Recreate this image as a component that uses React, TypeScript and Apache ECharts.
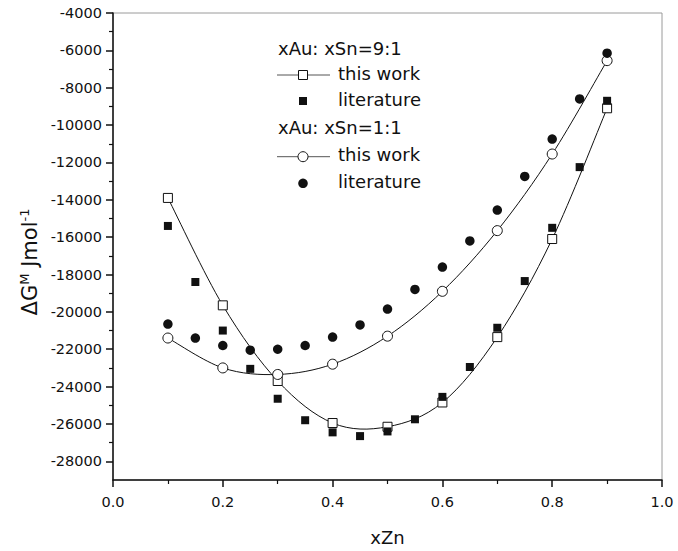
import React, { useEffect, useRef } from "react";
import * as echarts from "echarts";

// ---- data ----
const xThisWork = [0.1, 0.2, 0.3, 0.4, 0.5, 0.6, 0.7, 0.8, 0.9];
const xLiterature = [0.1, 0.15, 0.2, 0.25, 0.3, 0.35, 0.4, 0.45, 0.5, 0.55, 0.6, 0.65, 0.7, 0.75, 0.8, 0.85, 0.9];

const thisWork91 = [-13900, -19650, -23700, -25950, -26150, -24850, -21350, -16100, -9100];
const literature91 = [-15400, -18400, -21000, -23050, -24650, -25800, -26450, -26650, -26400, -25750, -24550, -22950, -20850, -18350, -15500, -12250, -8700];
const thisWork11 = [-21400, -23000, -23350, -22800, -21300, -18900, -15650, -11550, -6550];
const literature11 = [-20650, -21400, -21800, -22050, -22000, -21800, -21350, -20700, -19850, -18800, -17600, -16200, -14550, -12750, -10750, -8600, -6150];

const yMajorTicks = [-28000, -26000, -24000, -22000, -20000, -18000, -16000, -14000, -12000, -10000, -8000, -6000, -4000];
const yMinorTicks = [-27000, -25000, -23000, -21000, -19000, -17000, -15000, -13000, -11000, -9000, -7000, -5000];

const legendHeader1 = "xAu: xSn=9:1";
const legendHeader2 = "xAu: xSn=1:1";
const legendThis = "this work";
const legendLit = "literature";
const yTitle = "{t|ΔG}{s|M}{t| Jmol}{s|-1}";
const xTitle = "xZn";

const FONT = "DejaVu Sans";
const INK = "#111";

const pair = (xs: number[], ys: number[]) => xs.map((x, i) => [x, ys[i]]);

// smooth curve (Catmull-Rom) through the data, positioned by the chart's own scales
const curveSeries = (xs: number[], ys: number[], name: string) => ({
  type: "custom",
  name,
  data: pair(xs, ys),
  z: 1,
  silent: true,
  renderItem: (params: any, api: any) => {
    if (params.dataIndex !== 0) return null;
    const p = xs.map((x, i) => api.coord([x, ys[i]]));
    const n = p.length;
    let d = `M${p[0][0]},${p[0][1]}`;
    for (let i = 0; i < n - 1; i++) {
      const p0 = p[Math.max(i - 1, 0)];
      const p1 = p[i];
      const p2 = p[i + 1];
      const p3 = p[Math.min(i + 2, n - 1)];
      const c1x = p1[0] + (p2[0] - p0[0]) / 6;
      const c1y = p1[1] + (p2[1] - p0[1]) / 6;
      const c2x = p2[0] - (p3[0] - p1[0]) / 6;
      const c2y = p2[1] - (p3[1] - p1[1]) / 6;
      d += ` C${c1x},${c1y} ${c2x},${c2y} ${p2[0]},${p2[1]}`;
    }
    return {
      type: "path",
      shape: { pathData: d },
      style: { fill: "none", stroke: INK, lineWidth: 1 },
    };
  },
});

export default function App() {
  const ref = useRef<HTMLDivElement>(null);
  useEffect(() => {
    if (!ref.current) return;
    const chart = echarts.init(ref.current, undefined, { renderer: "svg" });
    const lx = 303;
    const textX = 338;
    const rows = [50.7, 75, 101, 129.3, 156.7, 183.3];
    const txt = (t: string, y: number, x: number) => ({
      type: "text",
      left: x,
      top: y - 11,
      style: { text: t, fontFamily: FONT, fontSize: 18, fill: INK, textVerticalAlign: "top" },
      z: 100,
    });
    const option: any = {
      animation: false,
      backgroundColor: "#fff",
      grid: { left: 113, right: 16, top: 13, bottom: 70, show: true, borderColor: "#9a9a9a", borderWidth: 1 },
      xAxis: {
        type: "value",
        min: 0,
        max: 1,
        interval: 0.2,
        name: xTitle,
        nameLocation: "middle",
        nameGap: 48,
        nameTextStyle: { fontFamily: FONT, fontSize: 18, color: INK },
        axisLine: { onZero: false, lineStyle: { color: INK, width: 1.5 } },
        axisTick: { length: 7, lineStyle: { color: INK, width: 1.5 } },
        minorTick: { show: true, splitNumber: 2, length: 4, lineStyle: { color: INK, width: 1.2 } },
        axisLabel: { formatter: (v: number) => v.toFixed(1), margin: 14, fontSize: 14.5, color: INK, fontFamily: FONT },
        splitLine: { show: false },
      },
      yAxis: [
        {
          type: "value",
          min: -29000,
          max: -4000,
          interval: 1000,
          axisLine: { onZero: false, lineStyle: { color: INK, width: 1.5 } },
          axisTick: { customValues: yMajorTicks, length: 7, lineStyle: { color: INK, width: 1.5 } },
          axisLabel: {
            customValues: yMajorTicks,
            formatter: (v: number) => String(v),
            margin: 11,
            fontSize: 14.5,
            color: INK,
            fontFamily: FONT,
          },
          splitLine: { show: false },
        },
        {
          type: "value",
          min: -29000,
          max: -4000,
          interval: 1000,
          position: "left",
          axisLine: { show: false },
          axisTick: { customValues: yMinorTicks, length: 4, lineStyle: { color: INK, width: 1.2 } },
          axisLabel: { show: false },
          splitLine: { show: false },
        },
      ],
      series: [
        curveSeries(xThisWork, thisWork91, "curve 9:1"),
        curveSeries(xThisWork, thisWork11, "curve 1:1"),
        {
          type: "scatter",
          name: "this work 9:1",
          data: pair(xThisWork, thisWork91),
          symbol: "rect",
          symbolSize: 9,
          itemStyle: { color: "#fff", borderColor: INK, borderWidth: 1, opacity: 1 },
          z: 2,
        },
        {
          type: "scatter",
          name: "this work 1:1",
          data: pair(xThisWork, thisWork11),
          symbol: "circle",
          symbolSize: 10,
          itemStyle: { color: "#fff", borderColor: INK, borderWidth: 1, opacity: 1 },
          z: 3,
        },
        {
          type: "scatter",
          name: "literature 9:1",
          data: pair(xLiterature, literature91),
          symbol: "rect",
          symbolSize: 8,
          itemStyle: { color: INK, opacity: 1 },
          z: 4,
        },
        {
          type: "scatter",
          name: "literature 1:1",
          data: pair(xLiterature, literature11),
          symbol: "circle",
          symbolSize: 9.5,
          itemStyle: { color: INK, opacity: 1 },
          z: 4,
        },
      ],
      graphic: [
        {
          type: "text",
          x: 30,
          y: 262,
          rotation: Math.PI / 2,
          style: {
            text: yTitle,
            align: "center",
            verticalAlign: "middle",
            fill: INK,
            rich: {
              t: { fontFamily: FONT, fontSize: 21, lineHeight: 25, fill: INK },
              s: { fontFamily: FONT, fontSize: 13, lineHeight: 13, verticalAlign: "top", fill: INK },
            },
          },
          z: 100,
        },
        txt(legendHeader1, rows[0], 278),
        { type: "line", shape: { x1: 277, y1: rows[1], x2: 330, y2: rows[1] }, style: { stroke: "#555", lineWidth: 1 }, z: 100 },
        { type: "rect", shape: { x: lx - 4.5, y: rows[1] - 4.5, width: 9, height: 9 }, style: { fill: "#fff", stroke: INK, lineWidth: 1 }, z: 101 },
        txt(legendThis, rows[1], textX),
        { type: "rect", shape: { x: lx - 4, y: rows[2] - 4, width: 8, height: 8 }, style: { fill: INK }, z: 101 },
        txt(legendLit, rows[2], textX),
        txt(legendHeader2, rows[3], 278),
        { type: "line", shape: { x1: 277, y1: rows[4], x2: 330, y2: rows[4] }, style: { stroke: "#555", lineWidth: 1 }, z: 100 },
        { type: "circle", shape: { cx: lx, cy: rows[4], r: 5 }, style: { fill: "#fff", stroke: INK, lineWidth: 1 }, z: 101 },
        txt(legendThis, rows[4], textX),
        { type: "circle", shape: { cx: lx, cy: rows[5], r: 4.8 }, style: { fill: INK }, z: 101 },
        txt(legendLit, rows[5], textX),
      ],
    };
    chart.setOption(option);
    return () => chart.dispose();
  }, []);
  return <div ref={ref} style={{ width: 678, height: 551, position: "absolute", left: 0, top: 0 }} />;
}
